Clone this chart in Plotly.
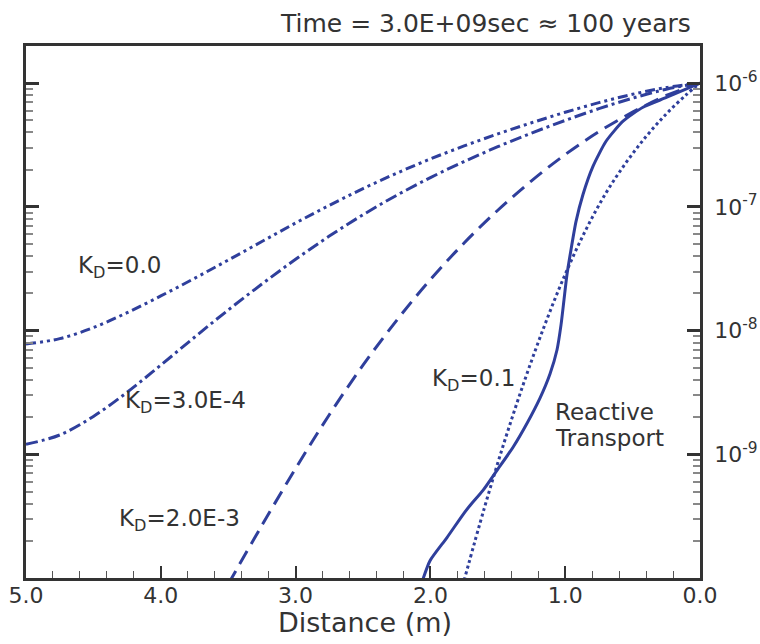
import plotly.graph_objects as go

# ---- data (distance in m, concentration) ----
kd0_x = [5.0, 4.75, 4.5, 4.25, 4.0, 3.75, 3.5, 3.25, 3.0, 2.75, 2.5,
         2.25, 2.0, 1.75, 1.5, 1.25, 1.0, 0.75, 0.5, 0.25, 0.0]
kd0_y = [7.80e-9, 8.60e-9, 1.058e-8, 1.395e-8, 1.904e-8, 2.642e-8, 3.711e-8, 5.242e-8, 7.404e-8,
         1.028e-7, 1.403e-7, 1.871e-7, 2.438e-7, 3.105e-7, 3.886e-7, 4.780e-7, 5.813e-7, 6.950e-7,
         8.120e-7, 9.216e-7, 1.0e-6]

kd3e4_x = [5.0, 4.75, 4.5, 4.25, 4.0, 3.75, 3.5, 3.25, 3.0, 2.75, 2.5,
           2.25, 2.0, 1.75, 1.5, 1.25, 1.0, 0.75, 0.5, 0.25, 0.0]
kd3e4_y = [1.205e-9, 1.432e-9, 2.023e-9, 3.170e-9, 5.260e-9, 8.831e-9, 1.466e-8, 2.377e-8, 3.767e-8,
           5.798e-8, 8.630e-8, 1.240e-7, 1.722e-7, 2.323e-7, 3.062e-7, 3.945e-7, 4.995e-7, 6.216e-7,
           7.557e-7, 8.933e-7, 1.0e-6]

kd2e3_x = [3.5, 3.25, 3.0, 2.75, 2.5, 2.25, 2.0, 1.75, 1.5, 1.25, 1.0, 0.75, 0.5, 0.25, 0.0]
kd2e3_y = [8.91e-11, 2.661e-10, 7.674e-10, 2.089e-9, 5.248e-9, 1.209e-8, 2.585e-8, 5.100e-8,
           9.386e-8, 1.622e-7, 2.646e-7, 4.050e-7, 5.821e-7, 7.943e-7, 1.0e-6]

kd01_x = [1.75, 1.6, 1.45, 1.3, 1.15, 1.0, 0.85, 0.7, 0.55, 0.4, 0.25, 0.1, 0.0]
kd01_y = [9.55e-11, 3.673e-10, 1.274e-9, 3.981e-9, 1.122e-8, 2.851e-8, 6.419e-8, 1.281e-7,
          2.265e-7, 3.698e-7, 5.636e-7, 8.100e-7, 1.0e-6]

rt_x = [2.055, 2.003, 1.877, 1.758, 1.706, 1.610, 1.506, 1.387, 1.283, 1.187, 1.113, 1.061,
        1.031, 1.009, 0.987, 0.957, 0.920, 0.868, 0.794, 0.697, 0.571, 0.423, 0.245, 0.0]
rt_y = [9.8e-11, 1.380e-10, 2.123e-10, 3.258e-10, 3.855e-10, 5.105e-10, 7.413e-10, 1.140e-9,
        1.782e-9, 2.844e-9, 4.457e-9, 6.966e-9, 1.111e-8, 1.770e-8, 2.825e-8, 4.508e-8, 7.603e-8,
        1.259e-7, 2.123e-7, 3.388e-7, 4.920e-7, 6.383e-7, 7.691e-7, 1.0e-6]

x_tickvals = [5, 4, 3, 2, 1, 0]
x_ticktext = ["5.0", "4.0", "3.0", "2.0", "1.0", "0.0"]
y_tickvals = [1e-9, 1e-8, 1e-7, 1e-6]
y_ticktext = ["10<sup>-9</sup>", "10<sup>-8</sup>", "10<sup>-7</sup>", "10<sup>-6</sup>"]
y_minor = [m * 10.0 ** e for e in (-10, -9, -8, -7, -6) for m in range(2, 10)]

COL = "#2f3f9c"
TXT = "#333333"
FONT = "DejaVu Sans"

fig = go.Figure()
series = [
    (kd0_x, kd0_y, "10px,4px,3px,4px,3px,4px", 1.0),
    (kd3e4_x, kd3e4_y, "12px,4px,3px,4px", 1.0),
    (kd2e3_x, kd2e3_y, "15px,8px", 1.0),
    (kd01_x, kd01_y, "3px,3px", 1.0),
    (rt_x, rt_y, "solid", 0.6),
]
for xs, ys, dash, sm in series:
    fig.add_trace(go.Scatter(x=xs, y=ys, mode="lines",
                             line=dict(color=COL, width=3, dash=dash, shape="spline", smoothing=sm),
                             showlegend=False, cliponaxis=True))

fig.update_layout(
    width=760, height=644,
    margin=dict(l=26, r=60, t=46, b=66),
    paper_bgcolor="white", plot_bgcolor="white",
    font=dict(family=FONT, color=TXT),
    xaxis=dict(range=[5, 0], tickvals=x_tickvals, ticktext=x_ticktext, ticks="inside",
               ticklen=12, tickwidth=2, tickcolor=TXT, showline=True, linewidth=2.5,
               linecolor=TXT, mirror=True, showgrid=False, zeroline=False, automargin=False,
               tickfont=dict(size=22, color=TXT, family=FONT), ticklabelstandoff=-4,
               minor=dict(dtick=0.2, ticks="inside", ticklen=7, tickwidth=1.2, tickcolor="#555555",
                          showgrid=False)),
    yaxis=dict(type="log", range=[-10, -5.7], side="right", tickvals=y_tickvals, ticktext=y_ticktext,
               ticks="inside", ticklen=13, tickwidth=2.5, tickcolor=TXT, showline=True, linewidth=2.5,
               linecolor=TXT, mirror="ticks", showgrid=False, zeroline=False, automargin=False,
               tickfont=dict(size=22, color=TXT, family=FONT), ticklabelstandoff=7,
               minor=dict(tickmode="array", tickvals=y_minor, ticks="inside", ticklen=7,
                          tickwidth=1.5, tickcolor="#888888", showgrid=False)),
)

ann = [
    dict(text="K<sub>D</sub>=0.0", x=4.63, y=-7.49),
    dict(text="K<sub>D</sub>=3.0E-4", x=4.278, y=-8.58),
    dict(text="K<sub>D</sub>=2.0E-3", x=4.327, y=-9.53),
    dict(text="K<sub>D</sub>=0.1", x=2.003, y=-8.40),
    dict(text="Reactive", x=1.091, y=-8.655),
    dict(text="Transport", x=1.091, y=-8.865),
]
for a in ann:
    fig.add_annotation(x=a["x"], y=a["y"], xref="x", yref="y", text=a["text"], showarrow=False,
                       xanchor="left", yanchor="middle", font=dict(size=23, color=TXT, family=FONT))

fig.add_annotation(text="Time = 3.0E+09sec ≈ 100 years", xref="paper", yref="paper", x=0.9896, y=1.043,
                   xanchor="right", yanchor="middle", showarrow=False,
                   font=dict(size=25, color=TXT, family=FONT))
fig.add_annotation(text="Distance (m)", xref="paper", yref="paper", x=0.5037, y=-0.0840,
                   xanchor="center", yanchor="middle", showarrow=False,
                   font=dict(size=27, color=TXT, family=FONT))

fig.write_html("out.html")
